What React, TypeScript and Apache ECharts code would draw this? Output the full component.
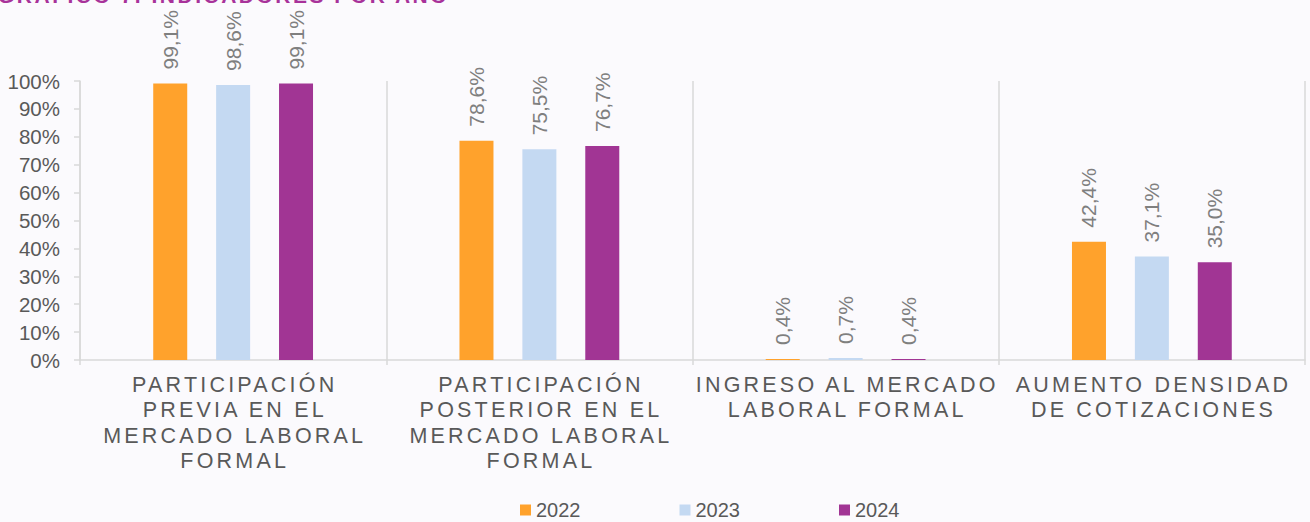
import React, { useEffect, useRef } from "react";
import * as echarts from "echarts";

const titleText = "GRÁFICO 7. INDICADORES POR AÑO";
const categories = [
  "PARTICIPACIÓN\nPREVIA EN EL\nMERCADO LABORAL\nFORMAL",
  "PARTICIPACIÓN\nPOSTERIOR EN EL\nMERCADO LABORAL\nFORMAL",
  "INGRESO AL MERCADO\nLABORAL FORMAL",
  "AUMENTO DENSIDAD\nDE COTIZACIONES",
];
const years = ["2022", "2023", "2024"];
const values2022 = [99.1, 78.6, 0.4, 42.4];
const values2023 = [98.6, 75.5, 0.7, 37.1];
const values2024 = [99.1, 76.7, 0.4, 35.0];
const yTicks = [0, 10, 20, 30, 40, 50, 60, 70, 80, 90, 100];

const colors = ["#ffa22c", "#c4d9f2", "#a13594"];
const seriesValues = [values2022, values2023, values2024];

const App: React.FC = () => {
  const ref = useRef<HTMLDivElement>(null);

  useEffect(() => {
    if (!ref.current) return;
    const chart = echarts.init(ref.current, undefined, { renderer: "svg" });
    const fontFamily = "Arial, 'Liberation Sans', sans-serif";

    chart.setOption({
      animation: false,
      backgroundColor: "#fbfafd",
      textStyle: { fontFamily },
      graphic: [
        {
          type: "text",
          left: -2,
          top: -15,
          silent: true,
          style: {
            text: titleText,
            fill: "#a8329a",
            font: `bold 21px ${fontFamily}`,
          },
        },
      ],
      legend: {
        data: years,
        left: 520,
        top: 500,
        padding: 0,
        icon: "rect",
        itemWidth: 11,
        itemHeight: 11,
        itemGap: 99,
        selectedMode: false,
        textStyle: { color: "#595959", fontSize: 20, fontFamily },
      },
      grid: { left: 80, right: 5, top: 81, bottom: 162, containLabel: false },
      xAxis: {
        type: "category",
        data: categories,
        boundaryGap: true,
        axisLine: { show: true, lineStyle: { color: "#d9d9d9", width: 1.5 } },
        axisTick: { show: true, interval: 0, length: 5, lineStyle: { color: "#d9d9d9", width: 1.5 } },
        splitLine: { show: true, interval: 0, lineStyle: { color: "#d9d9d9", width: 1.5 } },
        axisLabel: {
          interval: 0,
          hideOverlap: false,
          color: "#595959",
          fontSize: 21.5,
          lineHeight: 25.5,
          margin: 12,
          fontFamily,
        },
      },
      yAxis: {
        type: "value",
        min: 0,
        max: 100,
        interval: 10,
        axisLine: { show: true, lineStyle: { color: "#d9d9d9", width: 1.5 } },
        axisTick: { show: true, length: 6, lineStyle: { color: "#d9d9d9", width: 1.5 } },
        splitLine: { show: false },
        axisLabel: {
          color: "#595959",
          fontSize: 20.5,
          margin: 20,
          fontFamily,
          formatter: (v: number) => (yTicks.includes(v) ? `${v}%` : ""),
        },
      },
      series: years.map((y, i) => ({
        name: y,
        type: "bar",
        data: seriesValues[i],
        barWidth: 34,
        barGap: "85%",
        silent: true,
        itemStyle: { color: colors[i] },
        label: {
          show: true,
          position: "top",
          rotate: 90,
          align: "left",
          verticalAlign: "middle",
          distance: 14,
          color: "#7f7f7f",
          fontSize: 21,
          fontFamily,
          formatter: (p: any) => `${Number(p.value).toFixed(1).replace(".", ",")}%`,
        },
      })),
    });

    const lineSet = new Set<string>();
    categories.forEach((c) => c.split("\n").forEach((l) => lineSet.add(l)));
    const applySpacing = () => {
      if (!ref.current) return;
      const texts = ref.current.querySelectorAll("text");
      texts.forEach((t) => {
        const s = (t.textContent || "").trim();
        if (lineSet.has(s)) {
          (t as SVGTextElement).style.letterSpacing = "3.2px";
          t.setAttribute("dx", "1.6");
        } else if (s === titleText) {
          (t as SVGTextElement).style.letterSpacing = "2.5px";
        }
      });
    };
    applySpacing();
    chart.on("finished", applySpacing);
    const timer = setTimeout(applySpacing, 50);

    return () => {
      clearTimeout(timer);
      chart.dispose();
    };
  }, []);

  return (
    <div
      ref={ref}
      style={{ position: "absolute", left: 0, top: 0, width: 1310, height: 522 }}
    />
  );
};

export default App;
